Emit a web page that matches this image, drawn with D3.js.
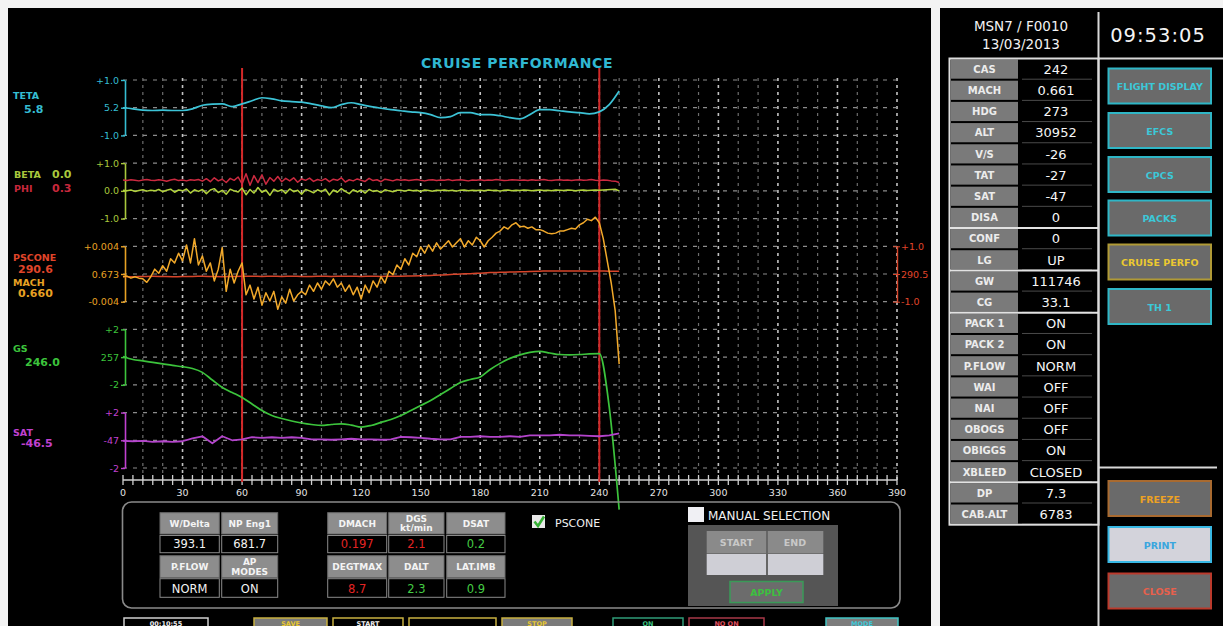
<!DOCTYPE html>
<html>
<head>
<meta charset="utf-8">
<script src="https://cdn.jsdelivr.net/npm/d3@7"></script>
<style>
  html, body { margin: 0; padding: 0; background: #f2f2f2; }
  svg { display: block; font-family: "DejaVu Sans", Verdana, sans-serif; }
</style>
</head>
<body>
<svg id="screen" width="1223" height="626"></svg>
<script>
// ---------- time bases (seconds) ----------
const tFine = d3.range(0, 251, 2);    // 0..250 every 2 s
const tCoarse = d3.range(0, 251, 5);  // 0..250 every 5 s

// ---------- recorded series ----------
const teta = [5.20,5.16,5.11,5.10,5.11,5.10,5.10,5.16,5.29,5.33,5.34,5.24,5.34,5.45,5.56,5.52,5.45,5.42,5.40,5.34,
  5.27,5.20,5.31,5.38,5.31,5.24,5.18,5.13,5.09,5.05,5.02,4.95,4.84,4.88,5.02,5.02,4.95,4.95,4.91,4.84,
  4.80,4.95,5.13,5.13,5.09,5.05,5.02,4.98,5.05,5.31,5.80];

const phi = [0.39,0.37,0.40,0.38,0.36,0.39,0.41,0.38,0.37,0.40,0.38,0.35,0.39,0.42,0.37,0.39,0.36,0.40,0.38,0.41,
  0.35,0.44,0.33,0.47,0.36,0.42,0.30,0.45,0.38,0.50,
  0.25,0.62,0.20,0.55,0.30,0.58,0.24,0.48,0.35,0.52,
  0.33,0.45,0.36,0.47,0.31,0.43,0.38,0.46,0.34,0.41,
  0.37,0.44,0.33,0.42,0.38,0.47,0.32,0.40,0.36,0.43,
  0.38,0.34,0.45,0.37,0.40,0.33,0.42,0.39,0.36,0.41,
  0.38,0.40,0.37,0.39,0.41,0.38,0.36,0.39,0.40,0.37,
  0.39,0.38,0.41,0.37,0.39,0.40,0.38,0.36,0.39,0.38,
  0.40,0.37,0.39,0.38,0.41,0.39,0.37,0.38,0.40,0.39,
  0.38,0.39,0.37,0.40,0.38,0.39,0.41,0.38,0.37,0.39,
  0.40,0.38,0.39,0.37,0.39,0.40,0.38,0.39,0.41,0.38,
  0.37,0.39,0.38,0.36,0.35,0.30];

const beta = [0.02,0.00,0.03,-0.02,0.01,0.04,-0.01,0.02,0.00,0.05,-0.03,0.02,0.06,-0.05,0.03,0.00,0.07,-0.08,0.04,-0.02,
  0.05,-0.10,0.03,0.08,-0.06,0.02,-0.12,0.06,0.00,-0.04,
  0.10,-0.14,0.05,-0.08,0.12,-0.05,0.03,-0.16,0.06,-0.02,
  0.04,-0.09,0.07,-0.03,0.02,-0.12,0.05,0.00,-0.07,0.04,
  -0.03,0.06,-0.15,0.03,-0.05,0.08,-0.02,-0.10,0.04,-0.04,
  0.03,-0.08,0.05,-0.02,0.01,-0.06,0.04,0.00,-0.03,0.02,
  0.02,-0.01,0.03,0.00,0.02,-0.02,0.03,0.01,-0.01,0.02,
  0.01,0.03,0.00,0.02,-0.01,0.02,0.03,0.00,0.02,0.01,
  0.02,0.00,0.03,0.01,0.02,-0.01,0.02,0.03,0.00,0.02,
  0.01,0.03,0.02,0.00,0.02,0.03,0.01,0.02,0.00,0.03,
  0.02,0.01,0.03,0.02,0.00,0.02,0.03,0.01,0.02,0.03,
  0.02,0.03,0.04,0.05,0.06,0.00];

const mach = [0.6726,0.6727,0.6724,0.6726,0.6724,0.6723,0.6718,0.6726,0.6737,0.6731,
  0.6742,0.6734,0.6752,0.6746,0.6760,0.6749,0.6772,0.6746,0.6781,0.6743,
  0.6756,0.6734,0.6746,0.6720,0.6737,0.6768,0.6705,0.6737,0.6717,0.6734,
  0.6746,0.6700,0.6714,0.6694,0.6711,0.6685,0.6703,0.6691,0.6705,0.6679,
  0.6697,0.6688,0.6708,0.6691,0.6700,0.6705,0.6700,0.6714,0.6705,0.6717,
  0.6708,0.6720,0.6714,0.6723,0.6711,0.6717,0.6705,0.6714,0.6700,0.6711,
  0.6694,0.6714,0.6703,0.6720,0.6711,0.6726,0.6717,0.6734,0.6729,0.6743,
  0.6737,0.6752,0.6743,0.6760,0.6755,0.6769,0.6760,0.6772,0.6763,0.6775,
  0.6766,0.6772,0.6778,0.6769,0.6775,0.6781,0.6769,0.6778,0.6772,0.6783,
  0.6778,0.6769,0.6778,0.6783,0.6789,0.6792,0.6798,0.6795,0.6801,0.6804,
  0.6798,0.6799,0.6796,0.6798,0.6794,0.6794,0.6792,0.6789,0.6788,0.6789,
  0.6792,0.6792,0.6794,0.6796,0.6795,0.6801,0.6804,0.6809,0.6807,0.6812,
  0.6804,0.6781,0.6749,0.6717,0.6677,0.6600];

const pscone = [290.41,290.40,290.41,290.42,290.41,290.40,290.41,290.41,290.42,290.41,
  290.40,290.41,290.42,290.42,290.41,290.42,290.41,290.42,290.41,290.41,
  290.42,290.41,290.42,290.42,290.41,290.42,290.41,290.42,290.42,290.43,
  290.44,290.45,290.46,290.48,290.50,290.51,290.53,290.55,290.56,290.57,
  290.58,290.59,290.60,290.61,290.61,290.61,290.61,290.60,290.61,290.60,290.60];

const gs = [257.05,256.83,256.73,256.62,256.51,256.40,256.31,256.18,255.90,255.35,
  254.81,254.45,254.09,253.62,253.15,252.79,252.57,252.39,252.25,252.14,
  252.07,252.14,252.19,252.10,251.95,252.07,252.29,252.50,252.79,253.15,
  253.51,253.87,254.31,254.74,255.17,255.39,255.57,256.11,256.55,256.91,
  257.16,257.34,257.41,257.30,257.19,257.17,257.19,257.23,257.25,253.40,246.0];

const sat = [-47.04,-47.07,-47.04,-47.11,-47.07,-47.11,-47.07,-46.86,-46.71,-47.22,
  -46.71,-47.00,-46.93,-46.78,-46.82,-46.78,-46.82,-46.78,-46.82,-46.93,
  -46.93,-46.96,-46.93,-46.89,-46.93,-46.93,-46.96,-46.93,-46.75,-46.78,
  -46.82,-46.89,-46.93,-46.93,-46.75,-46.75,-46.71,-46.75,-46.75,-46.71,
  -46.75,-46.64,-46.64,-46.64,-46.60,-46.64,-46.64,-46.68,-46.71,-46.64,-46.50];

// selection markers (s)
const markers = [60, 240];

// ---------- axis tick labels ----------
const xTickLabels = [0,30,60,90,120,150,180,210,240,270,300,330,360,390];
const tetaTicks = ['+1.0','5.2','-1.0'];
const attTicks = ['+1.0','0.0','-1.0'];
const machTicks = ['+0.004','0.673','-0.004'];
const psconeTicks = ['+1.0','290.5','-1.0'];
const gsTicks = ['+2','257','-2'];
const satTicks = ['+2','-47','-2'];

// ---------- current readouts ----------
const readouts = [
  {name:'TETA', value:'5.8', color:'#35bdd2'},
  {name:'BETA', value:'0.0', color:'#a9c83c'},
  {name:'PHI', value:'0.3', color:'#c8283c'},
  {name:'PSCONE', value:'290.6', color:'#e0452a'},
  {name:'MACH', value:'0.660', color:'#e8a224'},
  {name:'GS', value:'246.0', color:'#3cc43c'},
  {name:'SAT', value:'-46.5', color:'#c040d0'}
];

// ---------- summary tables ----------
const tbl1Heads = ['W/Delta','NP Eng1','P.FLOW','AP\nMODES'];
const tbl1Vals = ['393.1','681.7','NORM','ON'];
const tbl2Heads = ['DMACH','DGS\nkt/min','DSAT','DEGTMAX','DALT','LAT.IMB'];
const tbl2Vals = ['0.197','2.1','0.2','8.7','2.3','0.9'];
const tbl2Alert = [true,true,false,true,false,false];

// ---------- aircraft state panel ----------
const flightId = 'MSN7 / F0010';
const flightDate = '13/03/2013';
const clock = '09:53:05';
const acLabels = ['CAS','MACH','HDG','ALT','V/S','TAT','SAT','DISA','CONF','LG','GW','CG',
  'PACK 1','PACK 2','P.FLOW','WAI','NAI','OBOGS','OBIGGS','XBLEED','DP','CAB.ALT'];
const acValues = ['242','0.661','273','30952','-26','-27','-47','0','0','UP','111746','33.1',
  'ON','ON','NORM','OFF','OFF','OFF','ON','CLOSED','7.3','6783'];
const acGroupBreaks = [8,10,12,20];
const navButtons = ['FLIGHT DISPLAY','EFCS','CPCS','PACKS','CRUISE PERFO','TH 1'];
const cmdButtons = ['FREEZE','PRINT','CLOSE'];

// =====================================================
const svg = d3.select('#screen');

// frames
svg.append('rect').attr('x',0).attr('y',0).attr('width',1223).attr('height',626).attr('fill','#f3f3f3');
svg.append('rect').attr('x',8).attr('y',8).attr('width',923).attr('height',618).attr('fill','#000');
svg.append('rect').attr('x',940).attr('y',8).attr('width',283).attr('height',618).attr('fill','#000');

const x = d3.scaleLinear().domain([0,390]).range([123,897]);
const band = d3.scaleLinear().domain([0,14]).range([80,468]); // 15 grid rows

function panelScale(lo, hi, rowTop){
  return d3.scaleLinear().domain([lo,hi]).range([band(rowTop+2), band(rowTop)]);
}
const yTeta = panelScale(4.2, 6.2, 0);
const yAtt = panelScale(-1, 1, 3);
const yMach = panelScale(0.669, 0.677, 6);
const yPs = panelScale(289.5, 291.5, 6);
const yGs = panelScale(255, 259, 9);
const ySat = panelScale(-49, -45, 12);

const g = svg.append('g');

// vertical grid
const vTicks = d3.range(10, 391, 10);
g.selectAll('line.vg').data(vTicks).join('line')
  .attr('x1', d => x(d)).attr('x2', d => x(d))
  .attr('y1', 78).attr('y2', 480)
  .attr('stroke', d => d % 30 === 0 ? '#c4c4c4' : '#6e6e6e')
  .attr('stroke-width', d => d % 30 === 0 ? 1.6 : 1.2)
  .attr('stroke-dasharray', '3,4');

// horizontal grid from every panel scale
const panels = [
  {s:yTeta, vals:[6.2,5.2,4.2], labels:tetaTicks, color:'#35bdd2'},
  {s:yAtt, vals:[1,0,-1], labels:attTicks, color:'#a9c83c'},
  {s:yMach, vals:[0.677,0.673,0.669], labels:machTicks, color:'#e8a224'},
  {s:yGs, vals:[259,257,255], labels:gsTicks, color:'#3cc43c'},
  {s:ySat, vals:[-45,-47,-49], labels:satTicks, color:'#c040d0'}
];
panels.forEach(p => {
  g.selectAll(null).data(p.vals).join('line')
    .attr('x1', x(0)).attr('x2', x(390))
    .attr('y1', d => p.s(d)).attr('y2', d => p.s(d))
    .attr('stroke', '#8c8c8c').attr('stroke-width', 1.2)
    .attr('stroke-dasharray', '4,6');
});

// left axes
panels.forEach(p => {
  const ax = d3.axisLeft(p.s).tickValues(p.vals).tickFormat((d,i) => p.labels[i])
    .tickSize(4).tickSizeOuter(0).tickPadding(2);
  const a = g.append('g').attr('transform', `translate(${x(0)+2},0)`).call(ax);
  a.select('.domain').attr('stroke', p.color).attr('stroke-width', 1.6);
  a.selectAll('.tick line').attr('stroke', p.color).attr('stroke-width', 1.4);
  a.selectAll('.tick text').attr('fill', p.color).attr('font-size', 9.5)
    .attr('font-family','"DejaVu Sans", sans-serif');
});

// right axis (PSCONE)
{
  const ax = d3.axisRight(yPs).tickValues([291.5,290.5,289.5])
    .tickFormat((d,i) => psconeTicks[i]).tickSize(3).tickSizeOuter(0).tickPadding(1);
  const a = g.append('g').attr('transform', `translate(${x(390)},0)`).call(ax);
  a.select('.domain').attr('stroke', '#d8452a').attr('stroke-width', 1.4);
  a.selectAll('.tick line').attr('stroke', '#d8452a').attr('x1', -4);
  a.selectAll('.tick text').attr('fill', '#e0452a').attr('font-size', 9.5)
    .attr('font-family','"DejaVu Sans", sans-serif');
}

// x axis
g.append('line').attr('x1', x(0)).attr('x2', x(390)).attr('y1', 480).attr('y2', 480)
  .attr('stroke', '#d0d0d0').attr('stroke-width', 1.6);
g.selectAll('line.xt').data(d3.range(0, 391, 5)).join('line')
  .attr('x1', d => x(d)).attr('x2', d => x(d))
  .attr('y1', 475).attr('y2', 485)
  .attr('stroke', '#d0d0d0').attr('stroke-width', 1.3);
g.selectAll('text.xl').data(xTickLabels).join('text')
  .attr('x', d => x(d)).attr('y', 496)
  .attr('text-anchor', 'middle').attr('fill', '#e4e4e4')
  .attr('font-size', 9.5).text(d => d);

// selection markers
g.selectAll('line.mk').data(markers).join('line')
  .attr('x1', d => x(d)).attr('x2', d => x(d))
  .attr('y1', 68).attr('y2', 482)
  .attr('stroke', '#d42828').attr('stroke-width', 2);

// series
function drawLine(ts, vs, ys, color, w, curve){
  const line = d3.line().x((d,i) => x(ts[i])).y(d => ys(d)).curve(curve || d3.curveLinear);
  g.append('path').datum(vs).attr('d', line)
    .attr('fill','none').attr('stroke', color).attr('stroke-width', w)
    .attr('stroke-linejoin','round');
}
drawLine(tCoarse, teta, yTeta, '#3cc3d6', 1.7, d3.curveMonotoneX);
drawLine(tFine, phi, yAtt, '#cc2a40', 1.5);
drawLine(tFine, beta, yAtt, '#b2d23c', 1.5);
drawLine(tCoarse, pscone, yPs, '#d8452a', 1.5, d3.curveMonotoneX);
drawLine(tFine, mach, yMach, '#f2a92a', 1.5);
drawLine(tCoarse, gs, yGs, '#3cc43c', 1.7, d3.curveMonotoneX);
drawLine(tCoarse, sat, ySat, '#b444cc', 1.8);

// title
svg.append('text').attr('x', 517).attr('y', 68).attr('text-anchor','middle')
  .attr('fill', '#30b8d2').attr('font-size', 14).attr('font-weight', 'bold')
  .attr('letter-spacing', 0.6).text('CRUISE PERFORMANCE');

// readouts on the left
const ro = [
  {n:[13,98.5], v:[24,113]},
  {n:[14,178], v:[52,178]},
  {n:[14,192], v:[52,192]},
  {n:[13,261], v:[18,272.5]},
  {n:[13,285.5], v:[18,296.5]},
  {n:[13,352], v:[25,365.5]},
  {n:[13,436], v:[21,446.5]}
];
readouts.forEach((r, i) => {
  svg.append('text').attr('x', ro[i].n[0]).attr('y', ro[i].n[1])
    .attr('fill', r.color).attr('font-size', 9.5).attr('font-weight','bold').text(r.name);
  svg.append('text').attr('x', ro[i].v[0]).attr('y', ro[i].v[1])
    .attr('fill', r.color).attr('font-size', 11).attr('font-weight','bold').text(r.value);
});

// ---------- bottom summary panel ----------
svg.append('rect').attr('x', 122.5).attr('y', 502).attr('width', 777.5).attr('height', 106)
  .attr('rx', 9).attr('fill', 'none').attr('stroke', '#8a8a8a').attr('stroke-width', 1.6);

function cellText(cx, cy, label, color, size, bold){
  const parts = label.split('\n');
  const t = svg.append('text').attr('text-anchor','middle').attr('fill', color)
    .attr('font-size', size).attr('font-weight', bold ? 'bold' : 'normal');
  if (parts.length > 1) {
    t.append('tspan').attr('x', cx).attr('y', cy - 1.5).text(parts[0]);
    t.append('tspan').attr('x', cx).attr('y', cy + 8).text(parts[1]);
  } else {
    t.attr('x', cx).attr('y', cy + 3.5).text(label);
  }
}
function table(cols, heads, vals, valColors){
  const rows = [[512.7,534],[535.5,552.7],[555.7,577.7],[578.7,597.3]];
  heads.forEach((h, i) => {
    const c = i % cols.length, r = Math.floor(i / cols.length) * 2;
    const [x0, x1] = cols[c];
    svg.append('rect').attr('x', x0).attr('y', rows[r][0]).attr('width', x1 - x0).attr('height', rows[r][1] - rows[r][0])
      .attr('fill', '#8d8d8d').attr('stroke', '#6a6a6a').attr('stroke-width', 1);
    cellText((x0 + x1) / 2, (rows[r][0] + rows[r][1]) / 2, h, '#f4f4f4', 9, true);
    svg.append('rect').attr('x', x0).attr('y', rows[r+1][0]).attr('width', x1 - x0).attr('height', rows[r+1][1] - rows[r+1][0])
      .attr('fill', '#000').attr('stroke', '#8a8a8a').attr('stroke-width', 1);
    svg.append('text').attr('x', (x0 + x1) / 2).attr('y', rows[r+1][1] - 4.5).attr('text-anchor','middle')
      .attr('fill', valColors[i]).attr('font-size', 11.5).text(vals[i]);
  });
}
table([[160,219.3],[221.7,277.7]], tbl1Heads, tbl1Vals, tbl1Vals.map(() => '#f2f2f2'));
table([[327.7,386.7],[388.7,444],[446.7,505]], tbl2Heads, tbl2Vals,
  tbl2Alert.map(a => a ? '#e42424' : '#44cc44'));

// PSCONE checkbox
svg.append('rect').attr('x', 532).attr('y', 515).attr('width', 13).attr('height', 13).attr('fill', '#e8e8e8');
svg.append('path').attr('d', 'M534.5 521.5 L538 526 L544 516.5').attr('fill','none')
  .attr('stroke', '#36b036').attr('stroke-width', 2.6);
svg.append('text').attr('x', 555).attr('y', 526.5).attr('fill', '#f0f0f0').attr('font-size', 11).text('PSCONE');

// manual selection block
svg.append('rect').attr('x', 688).attr('y', 507).attr('width', 16).attr('height', 15).attr('fill', '#f0f0f4');
svg.append('text').attr('x', 708).attr('y', 519.5).attr('fill', '#f0f0f0').attr('font-size', 12).text('MANUAL SELECTION');
svg.append('rect').attr('x', 688).attr('y', 525).attr('width', 150).attr('height', 81).attr('fill', '#555');
svg.append('rect').attr('x', 706.7).attr('y', 531).attr('width', 116.6).attr('height', 22.5).attr('fill', '#8a8a8a');
svg.append('rect').attr('x', 706.7).attr('y', 554).attr('width', 116.6).attr('height', 21).attr('fill', '#cfcfd6');
svg.append('line').attr('x1', 767).attr('x2', 767).attr('y1', 531).attr('y2', 575).attr('stroke', '#666').attr('stroke-width', 2);
svg.append('text').attr('x', 736.5).attr('y', 546).attr('text-anchor','middle').attr('fill', '#c8c8c8')
  .attr('font-size', 9.5).attr('font-weight','bold').text('START');
svg.append('text').attr('x', 795).attr('y', 546).attr('text-anchor','middle').attr('fill', '#c8c8c8')
  .attr('font-size', 9.5).attr('font-weight','bold').text('END');
svg.append('rect').attr('x', 730).attr('y', 581.5).attr('width', 73).attr('height', 21)
  .attr('fill', '#6c6c6c').attr('stroke', '#3a9a58').attr('stroke-width', 1.5);
svg.append('text').attr('x', 766.5).attr('y', 596).attr('text-anchor','middle').attr('fill', '#3cc040')
  .attr('font-size', 9.5).attr('font-weight','bold').text('APPLY');

// bottom button strip (runs past the lower screen edge)
const strip = [
  {x0:124, x1:208, fill:'#000', stroke:'#cfcfcf', tc:'#f0f0f0', t:'00:10:55'},
  {x0:254, x1:327, fill:'#7a7a7a', stroke:'#c8b040', tc:'#e8c830', t:'SAVE'},
  {x0:333, x1:403, fill:'#000', stroke:'#c8b040', tc:'#f0f0f0', t:'START'},
  {x0:409, x1:496, fill:'#000', stroke:'#c8b040', tc:'#f0f0f0', t:''},
  {x0:502, x1:572, fill:'#7a7a7a', stroke:'#c8b040', tc:'#e8c830', t:'STOP'},
  {x0:613, x1:683, fill:'#000', stroke:'#2f9c78', tc:'#3cc080', t:'ON'},
  {x0:689, x1:764, fill:'#000', stroke:'#a83848', tc:'#e05060', t:'NO ON'},
  {x0:826, x1:898, fill:'#7c7c7c', stroke:'#40c4c4', tc:'#40c8d8', t:'MODE'}
];
strip.forEach(b => {
  svg.append('rect').attr('x', b.x0).attr('y', 618).attr('width', b.x1 - b.x0).attr('height', 16)
    .attr('fill', b.fill).attr('stroke', b.stroke).attr('stroke-width', 1.5);
  svg.append('text').attr('x', (b.x0 + b.x1) / 2).attr('y', 625.5).attr('text-anchor','middle')
    .attr('fill', b.tc).attr('font-size', 6.5).attr('font-weight','bold').text(b.t);
});

// ---------- right panel ----------
svg.append('text').attr('x', 1021).attr('y', 30.5).attr('text-anchor','middle').attr('fill','#f2f2f2')
  .attr('font-size', 13.5).text(flightId);
svg.append('text').attr('x', 1021).attr('y', 49).attr('text-anchor','middle').attr('fill','#f2f2f2')
  .attr('font-size', 13.5).text(flightDate);
svg.append('text').attr('x', 1158).attr('y', 41.5).attr('text-anchor','middle').attr('fill','#f4f4f4')
  .attr('font-size', 19.5).attr('letter-spacing', 1).text(clock);

svg.append('line').attr('x1', 1098.5).attr('x2', 1098.5).attr('y1', 12).attr('y2', 626)
  .attr('stroke', '#d8d8d8').attr('stroke-width', 2);
svg.append('line').attr('x1', 1098).attr('x2', 1223).attr('y1', 58.5).attr('y2', 58.5)
  .attr('stroke', '#d8d8d8').attr('stroke-width', 2);
svg.append('line').attr('x1', 1098).attr('x2', 1217).attr('y1', 467.5).attr('y2', 467.5)
  .attr('stroke', '#d8d8d8').attr('stroke-width', 2);

const rowTop = d3.scaleLinear().domain([0, 22]).range([58.5, 524.7]);
acLabels.forEach((lab, i) => {
  const y0 = rowTop(i), y1 = rowTop(i + 1);
  svg.append('rect').attr('x', 951).attr('y', y0 + 1).attr('width', 67).attr('height', y1 - y0 - 2)
    .attr('fill', '#7a7a7a');
  svg.append('text').attr('x', 984.5).attr('y', (y0 + y1) / 2 + 3.8).attr('text-anchor','middle')
    .attr('fill', '#ececec').attr('font-size', 10).attr('font-weight','bold').text(lab);
  svg.append('text').attr('x', 1056).attr('y', (y0 + y1) / 2 + 4.8).attr('text-anchor','middle')
    .attr('fill', '#f6f6f6').attr('font-size', 13).text(acValues[i]);
  svg.append('line').attr('x1', 1022).attr('x2', 1092).attr('y1', y1 - 0.5).attr('y2', y1 - 0.5)
    .attr('stroke', '#4a4a4a').attr('stroke-width', 1);
});
svg.append('rect').attr('x', 949.5).attr('y', rowTop(0)).attr('width', 149).attr('height', rowTop(22) - rowTop(0))
  .attr('fill', 'none').attr('stroke', '#dcdcdc').attr('stroke-width', 2);
acGroupBreaks.forEach(i => {
  svg.append('line').attr('x1', 949.5).attr('x2', 1098).attr('y1', rowTop(i)).attr('y2', rowTop(i))
    .attr('stroke', '#e2e2e2').attr('stroke-width', 2);
});

function button(label, y0, fill, stroke, color){
  svg.append('rect').attr('x', 1108.5).attr('y', y0).attr('width', 102.5).attr('height', 35)
    .attr('fill', fill).attr('stroke', stroke).attr('stroke-width', 2);
  svg.append('text').attr('x', 1159.8).attr('y', y0 + 21.5).attr('text-anchor','middle')
    .attr('fill', color).attr('font-size', 9.5).attr('font-weight','bold').text(label);
}
const navTops = [68.5, 113, 157, 200.5, 244.5, 289];
navButtons.forEach((b, i) => {
  const perfo = b === 'CRUISE PERFO';
  button(b, navTops[i], '#6a6a6a', perfo ? '#b09a36' : '#2fb6c6', perfo ? '#ecc930' : '#3cc8d8');
});
button(cmdButtons[0], 481, '#6a6a6a', '#a86a30', '#eda224');
button(cmdButtons[1], 527, '#d3d3db', '#38b8e4', '#3aa6de');
button(cmdButtons[2], 573.5, '#6a6a6a', '#bb3a2c', '#e8604c');
</script>
</body>
</html>
